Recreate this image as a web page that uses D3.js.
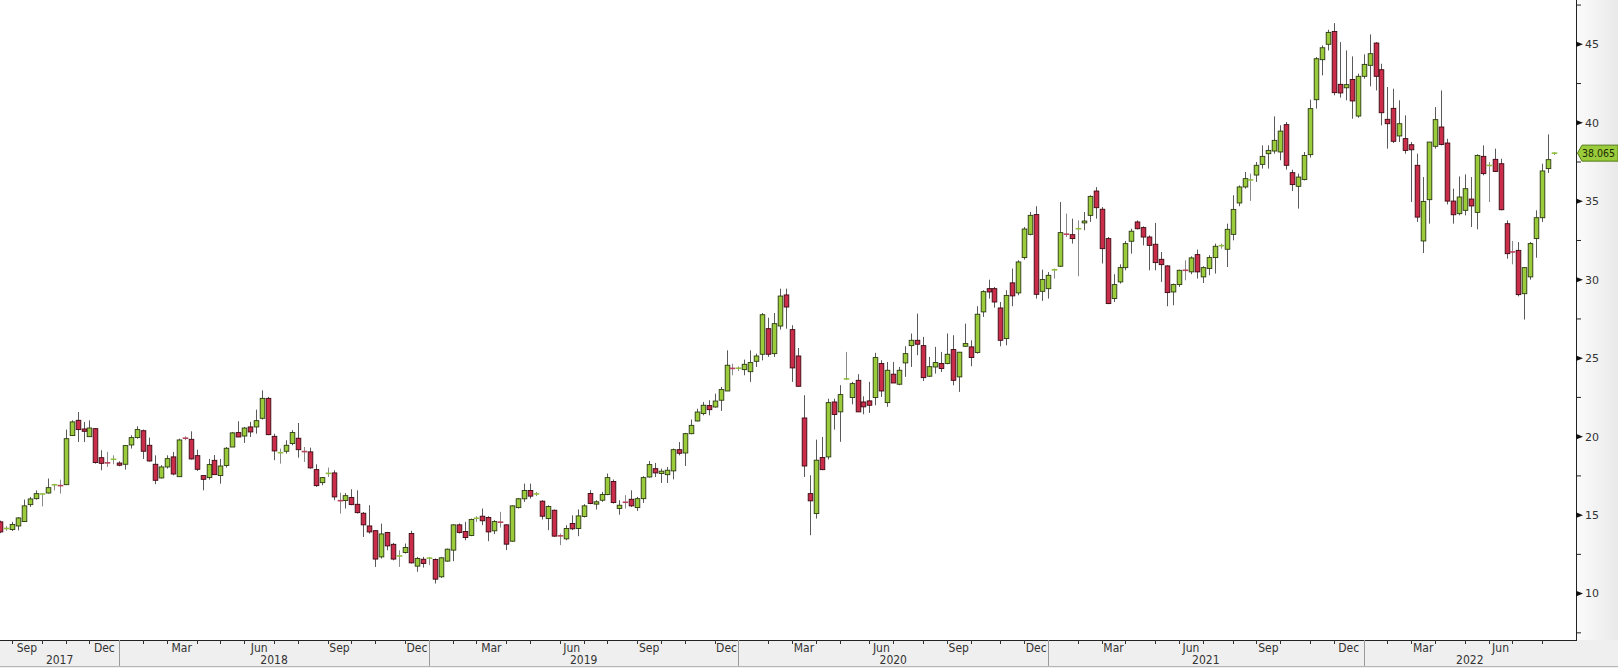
<!DOCTYPE html>
<html><head><meta charset="utf-8">
<script src="https://cdn.jsdelivr.net/npm/d3@7"></script>
<style>html,body{margin:0;padding:0;background:#fff;overflow:hidden}</style>
</head><body>
<svg id="c" width="1618" height="668"></svg>
<script>
// ---- DATA (weekly bars, first bar Fri 2017-08-18) ----
const startDate = "2017-08-18";
const open = [
14.57,14.10,14.08,14.31,14.59,15.67,16.05,16.30,16.41,16.88,
16.94,16.94,20.07,21.04,20.49,20.00,20.51,18.66,18.37,18.50,
18.32,18.24,19.47,19.94,20.38,19.45,18.24,17.37,18.07,18.71,
17.45,19.95,19.83,18.79,17.52,17.39,18.49,17.52,18.16,19.34,
20.26,20.04,20.62,20.62,21.17,22.44,20.02,18.92,19.07,19.56,
19.90,19.10,19.03,17.90,17.07,17.60,17.69,15.96,15.93,16.12,
15.69,15.12,14.31,14.01,12.34,13.89,13.14,12.36,12.62,13.83,
11.75,12.19,12.20,12.17,11.07,12.07,12.77,14.38,13.96,13.70,
14.74,14.93,14.85,14.00,14.59,14.38,13.34,15.48,16.04,16.57,
16.30,15.89,14.78,15.31,13.72,13.49,14.47,14.15,14.91,16.38,
15.70,15.95,16.31,17.14,15.42,15.86,16.01,15.48,16.05,17.43,
17.96,17.65,17.58,17.82,19.17,18.96,20.19,21.00,21.47,21.98,
21.89,22.32,22.91,24.44,24.30,24.27,24.14,24.80,25.25,26.88,
25.29,27.05,29.03,26.82,25.14,21.19,16.37,15.10,18.67,18.71,
22.21,21.58,23.60,22.49,23.59,22.21,22.28,22.49,24.66,22.17,
23.98,23.34,24.70,25.80,26.14,25.80,23.85,24.44,24.66,24.66,
25.55,23.81,25.76,25.72,25.36,27.95,29.43,29.43,28.20,26.25,
29.80,29.16,31.41,32.89,34.15,29.26,29.43,30.55,30.86,33.00,
32.87,33.15,33.62,34.10,35.65,34.49,32.62,28.80,29.86,30.77,
32.45,33.68,33.32,32.72,32.26,31.30,30.88,29.22,29.69,30.66,
30.50,31.60,30.18,30.71,31.41,32.10,31.94,32.89,34.89,35.91,
36.30,36.67,37.35,38.03,38.20,38.14,39.88,36.82,35.95,36.38,
37.97,41.47,44.02,45.00,45.82,42.45,42.23,42.76,40.43,42.96,
43.66,45.08,43.38,40.22,40.92,39.16,38.99,38.60,37.29,32.47,
35.10,38.50,39.73,38.71,35.01,34.21,34.42,35.14,34.29,37.86,
37.22,37.67,37.39,33.57,31.87,31.87,29.11,30.18,32.62,33.95,
37.08,38.00];
const high = [
14.65,14.30,14.57,14.88,15.99,16.16,16.58,16.40,17.33,17.00,
17.26,20.45,21.04,21.57,20.94,21.04,20.55,19.13,19.03,18.81,
18.43,19.45,20.09,20.66,20.45,19.94,18.81,18.18,18.81,19.03,
19.87,20.02,20.34,19.17,17.52,18.58,18.83,18.58,19.34,20.30,
20.98,20.62,20.94,21.72,22.95,22.53,20.19,19.24,19.77,20.41,
20.87,19.34,19.30,18.24,17.43,18.03,17.86,16.43,16.41,16.65,
16.58,15.20,15.63,14.03,14.46,13.93,13.23,12.76,13.19,14.00,
12.34,12.34,12.34,12.24,12.34,12.87,14.42,14.47,14.57,14.78,
14.93,15.42,14.93,14.68,15.21,14.42,15.63,16.10,17.01,17.01,
16.48,15.95,15.63,15.36,13.83,14.36,14.99,15.36,15.70,16.59,
15.95,16.48,17.65,17.27,15.95,16.27,16.58,16.16,17.48,18.45,
18.33,17.96,18.07,19.24,19.66,20.24,21.09,21.78,22.21,22.32,
22.74,23.17,25.50,24.65,24.48,24.91,25.50,25.29,27.88,27.58,
27.88,29.43,29.43,27.10,25.65,22.64,17.54,19.81,19.98,22.42,
22.42,23.28,25.40,23.49,23.98,22.57,23.49,25.34,24.87,24.76,
24.76,24.44,25.76,26.57,27.84,26.36,25.08,25.72,25.40,26.57,
26.46,25.40,27.20,26.14,28.31,29.33,30.00,29.54,28.58,29.33,
30.71,31.24,33.36,34.32,34.68,30.64,30.49,30.71,34.95,34.21,
33.89,33.78,34.32,35.38,35.90,34.63,32.72,30.35,30.98,32.47,
33.25,33.78,33.40,32.83,33.62,31.77,30.92,29.75,30.64,31.24,
31.49,31.92,30.86,31.56,32.30,32.30,33.57,35.38,36.01,36.86,
36.76,37.50,38.56,38.56,40.41,39.84,40.05,37.01,36.76,38.14,
41.47,44.19,44.93,45.93,46.35,45.14,44.61,44.23,43.13,44.36,
45.63,45.14,43.76,42.28,42.17,41.43,40.47,38.77,38.03,36.54,
38.77,41.00,42.06,38.98,35.80,36.58,36.71,36.54,37.99,38.56,
37.50,38.35,37.71,33.78,32.47,32.40,30.81,32.40,34.42,37.39,
39.26,38.12];
const low = [
13.85,14.00,13.99,14.03,14.59,15.52,15.99,15.56,16.37,16.58,
16.37,16.94,20.05,19.66,19.66,19.98,18.28,17.86,18.07,18.24,
18.11,17.90,19.24,19.87,18.58,18.41,16.97,17.33,17.96,17.54,
17.43,19.77,18.54,17.82,16.58,17.26,17.58,17.00,18.03,19.34,
19.98,19.60,19.98,20.19,21.09,20.09,18.50,18.28,18.92,19.45,
18.66,18.39,17.96,16.80,16.90,17.43,15.95,15.10,15.42,15.63,
15.10,13.61,13.82,11.70,12.23,12.76,12.12,11.70,12.55,11.92,
11.39,11.66,11.81,10.64,11.00,12.03,12.07,13.83,13.40,13.66,
14.57,14.36,13.34,13.79,14.21,12.77,13.30,15.42,15.84,16.06,
16.21,14.72,14.04,13.62,13.09,13.40,14.04,13.66,14.85,15.70,
15.36,15.85,16.27,15.74,15.03,15.42,15.52,15.27,15.78,17.39,
17.43,17.05,17.05,17.28,18.81,18.13,20.15,20.96,21.36,21.36,
21.85,21.64,22.91,23.91,24.18,23.91,23.49,24.44,24.86,25.08,
25.08,26.82,26.88,23.49,23.17,17.43,13.72,14.78,17.86,18.54,
20.45,19.67,23.60,22.06,21.58,21.43,21.51,22.00,22.53,21.90,
23.42,23.28,23.81,24.44,25.19,23.55,23.81,24.02,24.12,24.61,
23.27,22.85,25.72,24.49,25.29,27.63,28.80,28.22,25.76,25.82,
28.31,29.01,31.28,32.83,28.80,28.65,28.80,30.07,30.81,32.72,
32.30,30.22,33.15,33.68,33.89,31.03,28.44,28.58,29.75,30.60,
31.66,33.20,32.19,30.60,30.60,29.86,28.31,28.37,29.54,29.96,
30.35,30.07,29.79,30.28,30.39,31.98,30.81,32.51,34.68,35.80,
35.02,36.23,37.08,37.08,38.03,37.61,37.01,35.65,34.53,36.33,
37.78,40.90,43.02,44.61,41.75,41.60,41.43,40.26,40.32,42.81,
42.32,42.06,39.83,38.35,38.71,38.77,38.03,34.95,33.68,31.70,
33.57,38.35,38.56,34.80,33.57,34.10,34.10,33.36,33.21,36.65,
34.95,36.86,34.42,31.34,30.98,28.94,27.46,30.00,31.40,33.68,
36.80,37.95];
const close = [
13.93,14.15,14.40,14.82,15.59,16.03,16.37,16.35,16.75,16.93,
16.88,19.87,20.94,20.45,20.34,20.55,18.35,18.30,18.33,18.56,
18.18,19.43,19.94,20.45,19.07,18.45,17.22,18.07,18.60,17.62,
19.79,19.90,18.58,17.92,17.28,18.22,17.58,18.13,19.26,20.24,
19.98,20.55,20.30,21.02,22.44,20.13,19.09,18.98,19.45,20.26,
19.17,19.05,18.01,16.88,17.39,17.66,16.16,15.92,16.24,15.67,
15.16,14.38,13.93,12.20,13.80,13.04,12.20,12.40,12.94,11.96,
12.24,11.92,12.26,10.92,12.28,12.83,14.38,13.89,13.57,14.72,
14.80,14.64,13.93,14.59,14.55,13.15,15.59,16.04,16.57,16.21,
16.35,14.93,15.55,13.66,13.68,14.15,14.13,14.95,15.59,15.74,
15.85,16.31,17.39,15.80,15.63,15.82,15.59,16.05,17.39,18.22,
17.69,17.80,17.86,19.17,18.94,20.19,20.72,21.57,22.00,21.72,
22.27,23.00,24.55,24.35,24.36,24.61,24.72,25.14,27.77,25.25,
27.20,28.96,28.26,24.38,23.21,18.13,15.91,18.50,17.90,22.17,
21.41,22.68,23.68,23.38,21.58,21.90,22.00,25.04,22.91,24.23,
23.42,24.23,25.29,26.14,25.89,23.76,24.46,24.72,24.34,25.25,
23.59,25.38,25.93,25.04,27.80,29.24,29.22,28.58,26.14,29.00,
28.97,31.13,33.23,34.10,29.07,30.01,30.28,30.63,33.00,32.90,
32.62,33.25,33.74,35.31,34.59,31.98,28.48,29.69,30.77,32.30,
33.09,33.25,32.72,32.19,31.09,30.96,29.18,29.69,30.60,30.60,
31.39,30.50,30.77,31.41,32.13,32.17,33.21,34.48,35.91,36.44,
36.36,37.29,37.86,38.24,38.88,39.47,37.29,36.06,36.54,37.92,
40.90,44.08,44.78,45.76,41.92,41.90,42.43,41.39,42.96,43.72,
44.40,42.96,40.64,39.94,38.82,39.94,38.24,38.28,33.99,34.99,
38.77,40.20,38.62,35.01,34.14,35.27,35.80,34.70,37.92,36.76,
37.28,36.90,34.46,31.66,31.77,29.05,30.77,32.30,33.95,36.93,
37.65,38.065];
const yTicks = [10,15,20,25,30,35,40,45];
const yMinorTicks = [7.5,12.5,17.5,22.5,27.5,32.5,37.5,42.5,47.5];
const monthNames = ["Jan","Feb","Mar","Apr","May","Jun","Jul","Aug","Sep","Oct","Nov","Dec"];
const labelMonths = [2,5,8,11];
const lastPriceText = "38.065";

// ---- LAYOUT ----
const W = 1618, H = 668, axisX = 1576, axisY = 640;
const step = 5.954, x0 = 0.15;
const GREEN = "#9acb3a", GREEN_EDGE = "#2c3a10", RED = "#c92d4a", RED_EDGE = "#3d0812";

const svg = d3.select("#c");
const parse = d3.timeParse("%Y-%m-%d");
const s0 = parse(startDate);
const dates = d3.timeFriday.range(s0, d3.timeDay.offset(s0, 7 * open.length));
const N = open.length;

const x = d3.scaleLinear().domain([0, N - 1]).range([x0, x0 + step * (N - 1)]);
const y = d3.scaleLinear().domain([10, 45]).range([593.6, 44.3]);

// backgrounds
const defs = svg.append("defs");
const g1 = defs.append("linearGradient").attr("id", "rg").attr("x1", 0).attr("x2", 1).attr("y1", 0).attr("y2", 0);
g1.append("stop").attr("offset", "0%").attr("stop-color", "#fbfbfb");
g1.append("stop").attr("offset", "100%").attr("stop-color", "#e9e9e9");
defs.append("clipPath").attr("id", "plotclip").append("rect")
  .attr("x", 0).attr("y", 0).attr("width", axisX).attr("height", axisY);

svg.append("rect").attr("x", 0).attr("y", 0).attr("width", W).attr("height", H).attr("fill", "#ffffff");
svg.append("rect").attr("x", axisX).attr("y", 0).attr("width", W - axisX).attr("height", axisY).attr("fill", "url(#rg)");
svg.append("rect").attr("x", 0).attr("y", axisY).attr("width", W).attr("height", H - axisY).attr("fill", "#efefef");
svg.append("line").attr("x1", 0).attr("x2", W).attr("y1", H - 1.5).attr("y2", H - 1.5).attr("stroke", "#b5b5b5");

// candles
const plot = svg.append("g").attr("clip-path", "url(#plotclip)");
const bw = 4.6;
const idx = d3.range(N);
const up = i => close[i] >= open[i];
const isDoji = i => Math.abs(y(open[i]) - y(close[i])) < 1.6;

plot.selectAll("line.wick").data(idx).join("line").attr("class", "wick")
  .attr("x1", i => Math.round(x(i)) + 0.5).attr("x2", i => Math.round(x(i)) + 0.5)
  .attr("y1", i => y(high[i])).attr("y2", i => y(low[i]))
  .attr("stroke", i => isDoji(i) ? "#8a8a8a" : "#5a5a5a")
  .attr("stroke-width", 1);

plot.selectAll("rect.body").data(idx.filter(i => !isDoji(i))).join("rect").attr("class", "body")
  .attr("x", i => Math.round(x(i)) + 0.5 - bw / 2)
  .attr("width", bw)
  .attr("y", i => y(Math.max(open[i], close[i])))
  .attr("height", i => Math.abs(y(open[i]) - y(close[i])))
  .attr("fill", i => up(i) ? GREEN : RED)
  .attr("stroke", i => up(i) ? GREEN_EDGE : RED_EDGE)
  .attr("stroke-width", 0.9);

plot.selectAll("line.doji").data(idx.filter(i => isDoji(i))).join("line").attr("class", "doji")
  .attr("x1", i => Math.round(x(i)) + 0.5 - 2.8).attr("x2", i => Math.round(x(i)) + 0.5 + 2.8)
  .attr("y1", i => y(close[i])).attr("y2", i => y(close[i]))
  .attr("stroke", i => up(i) ? "#8fbf3a" : "#b8405a").attr("stroke-width", 1.6);

// right axis
const ra = svg.append("g");
ra.append("line").attr("x1", axisX + 0.5).attr("x2", axisX + 0.5).attr("y1", 0).attr("y2", axisY)
  .attr("stroke", "#222");
ra.selectAll("path.maj").data(yTicks).join("path").attr("class", "maj")
  .attr("d", v => `M${axisX},${y(v) - 2.8}L${axisX + 7},${y(v)}L${axisX},${y(v) + 2.8}Z`)
  .attr("fill", "#111");
ra.selectAll("line.min").data(yMinorTicks).join("line").attr("class", "min")
  .attr("x1", axisX).attr("x2", axisX + 5).attr("y1", v => y(v)).attr("y2", v => y(v))
  .attr("stroke", "#222");
ra.selectAll("text").data(yTicks).join("text")
  .attr("x", axisX + 9).attr("y", v => y(v)).attr("dy", "0.35em")
  .attr("font-family", "DejaVu Sans, Verdana, sans-serif").attr("font-size", 11)
  .attr("fill", "#333").text(v => v);

// last price label
const ly = y(close[N - 1]);
svg.append("path")
  .attr("d", `M${axisX + 1.5},${ly}L${axisX + 6},${ly - 8}L${W},${ly - 8}L${W},${ly + 8}L${axisX + 6},${ly + 8}Z`)
  .attr("fill", "#9acb3a").attr("stroke", "#557d18").attr("stroke-width", 1);
svg.append("text").attr("x", axisX + 6).attr("y", ly).attr("dy", "0.36em")
  .attr("font-family", "DejaVu Sans Condensed, Liberation Sans Narrow, sans-serif").attr("font-size", 10.5)
  .attr("fill", "#1d2a05").text(lastPriceText);

// bottom axis
const ba = svg.append("g");
ba.append("line").attr("x1", 0).attr("x2", axisX + 1).attr("y1", axisY + 0.5).attr("y2", axisY + 0.5).attr("stroke", "#222");
const monthStarts = idx.filter(i => i > 0 && dates[i].getMonth() !== dates[i - 1].getMonth());
const yearStarts = monthStarts.filter(i => dates[i].getMonth() === 0);
ba.selectAll("line.mt").data(monthStarts).join("line").attr("class", "mt")
  .attr("x1", i => Math.round(x(i)) + 0.5).attr("x2", i => Math.round(x(i)) + 0.5)
  .attr("y1", axisY).attr("y2", axisY + 4).attr("stroke", "#333");
ba.selectAll("line.ys").data(yearStarts).join("line").attr("class", "ys")
  .attr("x1", i => Math.round(x(i)) + 0.5).attr("x2", i => Math.round(x(i)) + 0.5)
  .attr("y1", axisY).attr("y2", H - 2).attr("stroke", "#9a9a9a");
const mLab = [];
monthStarts.forEach((s, k) => {
  const m = dates[s].getMonth();
  if (labelMonths.includes(m) && k + 1 < monthStarts.length) {
    mLab.push({ t: monthNames[m], cx: (x(s) + x(monthStarts[k + 1])) / 2 });
  }
});
const fnt = "DejaVu Sans Condensed, Liberation Sans Narrow, Arial Narrow, sans-serif";
ba.selectAll("text.ml").data(mLab).join("text").attr("class", "ml")
  .attr("x", d => d.cx).attr("y", axisY + 7.5).attr("dy", "0.35em").attr("text-anchor", "middle")
  .attr("font-family", fnt).attr("font-size", 12).attr("fill", "#333").text(d => d.t);
const bounds = [0].concat(yearStarts.map(i => x(i))).concat([axisX]);
const yLab = bounds.slice(0, -1).map((b, k) => ({
  t: k === 0 ? dates[0].getFullYear() : dates[yearStarts[k - 1]].getFullYear(),
  cx: (b + bounds[k + 1]) / 2 }));
ba.selectAll("text.yl").data(yLab).join("text").attr("class", "yl")
  .attr("x", d => d.cx).attr("y", axisY + 20).attr("dy", "0.35em").attr("text-anchor", "middle")
  .attr("font-family", fnt).attr("font-size", 12).attr("fill", "#333").text(d => d.t);
</script>
</body></html>
